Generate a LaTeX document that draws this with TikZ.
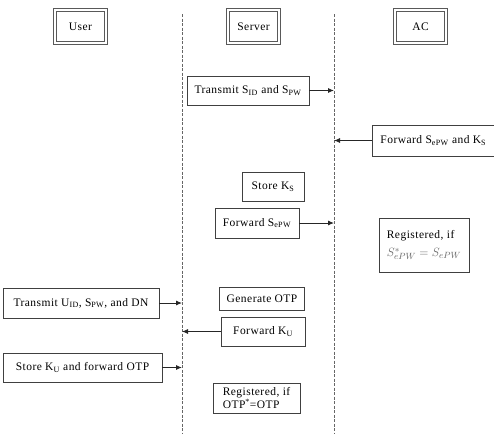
\documentclass[tikz,border=0pt]{standalone}
\usepackage{fontspec}
\setmainfont[LetterSpace=4]{Liberation Serif}
\usetikzlibrary{arrows.meta}
\tikzset{
  head/.style={draw=gray!70!black, line width=1.3pt, double=white, double distance=1.4pt, fill=white, inner sep=0pt, font=\fontsize{11.5}{13}\selectfont},
  msg/.style={draw=black!75, line width=0.7pt, fill=white, inner sep=0pt, font=\fontsize{11.5}{13}\selectfont},
  life/.style={draw=gray!80!black, line width=0.9pt, dash pattern=on 3pt off 1.5pt},
  arr/.style={draw=black!85, line width=0.9pt, -{Latex[length=6pt,width=5pt]}}
}
\newcommand{\sub}[1]{\textsubscript{#1}}
\begin{document}
\begin{tikzpicture}[x=1pt,y=-1pt]
\useasboundingbox (0,0) rectangle (494,434);
% heads
\node[head, minimum width=51pt, minimum height=33pt] (user) at (80.5,26.5) {User};
\node[head, minimum width=51pt, minimum height=33pt] (server) at (253.5,26.5) {Server};
\node[head, minimum width=51pt, minimum height=33pt] (ac) at (420.5,26.5) {AC};
% lifelines
\coordinate (l1t) at (182,14); \coordinate (l1b) at (182,434);
\coordinate (l2t) at (334,14); \coordinate (l2b) at (334,434);
\draw[life] (l1t) -- (l1b);
\draw[life] (l2t) -- (l2b);
% messages
\node[msg, minimum width=122pt, minimum height=29pt] (m1) at (248,90.5) {Transmit S\sub{ID} and S\sub{PW}};
\node[msg, minimum width=122pt, minimum height=31pt, anchor=west] (m2) at (372,140.5) {Forward S\sub{ePW} and K\sub{S}};
\node[msg, minimum width=62pt, minimum height=29pt] (m3) at (273,186.5) {Store K\sub{S}};
\node[msg, minimum width=84pt, minimum height=30pt] (m4) at (257,223) {Forward S\sub{ePW}};
\node[msg, minimum width=90pt, minimum height=54pt, align=left] (m5) at (424,245) {Registered, if\\[5pt]{\color{gray!80!black}\fontsize{13}{15}\selectfont$S^{*}_{ePW} = S_{ePW}$}};
\node[msg, minimum width=156pt, minimum height=30pt] (m6) at (81,303) {Transmit U\sub{ID}, S\sub{PW}, and DN};
\node[msg, minimum width=85pt, minimum height=23pt] (m7) at (262,298.5) {Generate OTP};
\node[msg, minimum width=84pt, minimum height=29pt] (m8) at (263,331.5) {Forward K\sub{U}};
\node[msg, minimum width=159pt, minimum height=29pt] (m9) at (82.5,367.5) {Store K\sub{U} and forward OTP};
\node[msg, minimum width=87pt, minimum height=30pt, align=left] (m10) at (256.5,398) {Registered, if\\ OTP\textsuperscript{*}=OTP};
% arrows
\draw[arr] (m1.east) -- (m1.east -| l2t);
\draw[arr] (m2.west) -- (m2.west -| l2t);
\draw[arr] (m4.east) -- (m4.east -| l2t);
\draw[arr] (m6.east) -- (m6.east -| l1t);
\draw[arr] (m8.west) -- (m8.west -| l1t);
\draw[arr] (m9.east) -- (m9.east -| l1t);
\end{tikzpicture}
\end{document}
